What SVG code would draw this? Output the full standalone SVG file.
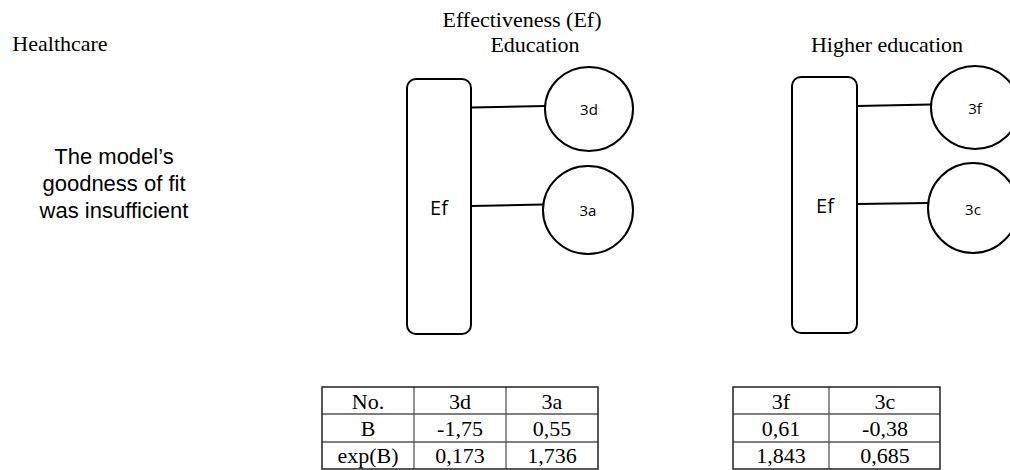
<svg xmlns="http://www.w3.org/2000/svg" width="1010" height="470" viewBox="0 0 1010 470">
<style>
.serif{font-family:"Liberation Serif","Times New Roman",serif;font-size:22px;fill:#000;text-anchor:middle}
.sans{font-family:"Liberation Sans",Arial,sans-serif;font-size:22px;fill:#000;text-anchor:middle}
.lbl{font-family:"Open Sans","Noto Sans",sans-serif;fill:#000;text-anchor:middle}
.shape{fill:#fff;stroke:#000;stroke-width:2}
.conn{stroke:#000;stroke-width:2;fill:none}
.tb{fill:none;stroke:#222;stroke-width:1.5}
.tl{stroke:#555;stroke-width:1.3}
</style>
<rect width="1010" height="470" fill="#fff"/>
<g id="titles">
<text class="serif" x="60" y="51">Healthcare</text>
<text class="serif" x="522" y="27">Effectiveness (Ef)</text>
<text class="serif" x="535" y="52">Education</text>
<text class="serif" x="887" y="52">Higher education</text>
</g>
<g id="note">
<text class="sans" x="114" y="164">The model’s</text>
<text class="sans" x="114" y="191">goodness of fit</text>
<text class="sans" x="114" y="218">was insufficient</text>
</g>
<g id="connectors">
<line class="conn" x1="471" y1="107.5" x2="545" y2="106"/>
<line class="conn" x1="471" y1="206" x2="543" y2="204.5"/>
<line class="conn" x1="857" y1="106" x2="931" y2="104.5"/>
<line class="conn" x1="857" y1="204" x2="928" y2="203"/>
</g>
<g id="ef-edu">
<rect class="shape" x="407" y="79" width="64" height="255" rx="9"/>
<text class="lbl" x="439" y="215" font-size="20">Ef</text>
</g>
<g id="n3d">
<ellipse class="shape" cx="589" cy="109" rx="44" ry="42"/>
<text class="lbl" x="589" y="115" font-size="15">3d</text>
</g>
<g id="n3a">
<ellipse class="shape" cx="588" cy="210" rx="45" ry="44"/>
<text class="lbl" x="588" y="216" font-size="15">3a</text>
</g>
<g id="ef-higher">
<rect class="shape" x="792" y="77" width="65" height="256" rx="9"/>
<text class="lbl" x="825" y="213" font-size="20">Ef</text>
</g>
<g id="n3f">
<ellipse class="shape" cx="975" cy="107.5" rx="44" ry="41.5"/>
<text class="lbl" x="975" y="114" font-size="15">3f</text>
</g>
<g id="n3c">
<ellipse class="shape" cx="973" cy="208" rx="45" ry="45"/>
<text class="lbl" x="973" y="215" font-size="15">3c</text>
</g>
<g id="table-education">
<line class="tl" x1="322" y1="414" x2="598" y2="414"/>
<line class="tl" x1="322" y1="442" x2="598" y2="442"/>
<line class="tl" x1="414" y1="387" x2="414" y2="469"/>
<line class="tl" x1="506" y1="387" x2="506" y2="469"/>
<rect class="tb" x="322" y="387" width="276" height="82"/>
<text class="serif" x="368" y="409">No.</text>
<text class="serif" x="460" y="409">3d</text>
<text class="serif" x="552" y="409">3a</text>
<text class="serif" x="368" y="436">B</text>
<text class="serif" x="460" y="436">-1,75</text>
<text class="serif" x="552" y="436">0,55</text>
<text class="serif" x="368" y="463">exp(B)</text>
<text class="serif" x="460" y="463">0,173</text>
<text class="serif" x="552" y="463">1,736</text>
</g>
<g id="table-higher">
<line class="tl" x1="733" y1="414" x2="940" y2="414"/>
<line class="tl" x1="733" y1="442" x2="940" y2="442"/>
<line class="tl" x1="829" y1="387" x2="829" y2="469"/>
<rect class="tb" x="733" y="387" width="207" height="82"/>
<text class="serif" x="781" y="409">3f</text>
<text class="serif" x="885" y="409">3c</text>
<text class="serif" x="781" y="436">0,61</text>
<text class="serif" x="885" y="436">-0,38</text>
<text class="serif" x="781" y="463">1,843</text>
<text class="serif" x="885" y="463">0,685</text>
</g>
</svg>
